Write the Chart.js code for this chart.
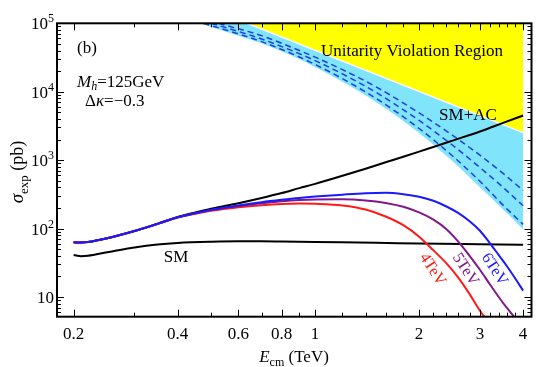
<!DOCTYPE html>
<html>
<head>
<meta charset="utf-8">
<script src="https://cdn.jsdelivr.net/npm/chart.js@4/dist/chart.umd.min.js"></script>
<style>
  html, body { margin: 0; padding: 0; background: #fff; }
  #wrap { width: 536px; height: 367px; }
</style>
</head>
<body>
<div id="wrap"><canvas id="chart" width="536" height="367"></canvas></div>
<script>
// --- data (E in TeV, sigma in pb) ---
const smE      = [0.2, 0.205, 0.21, 0.22, 0.25, 0.3, 0.35, 0.4, 0.5, 0.6, 0.7, 0.8, 1.0, 1.5, 2.0, 3.0, 4.0];
const smV      = [41, 40, 39.5, 40, 45, 53, 58.5, 61.5, 64, 65, 65, 64.5, 63.5, 62, 60.5, 59, 58];

const smacE    = [0.2, 0.21, 0.22, 0.25, 0.3, 0.35, 0.4, 0.45, 0.5, 0.6, 0.7, 0.8, 0.9, 1.0, 1.2, 1.4, 1.6, 1.8, 2.0, 2.2, 2.5, 2.8, 3.0, 3.5, 4.0];
const smacV    = [63, 62.5, 63.5, 72, 92, 118, 148, 172, 195, 235, 280, 330, 390, 450, 590, 750, 930, 1120, 1330, 1560, 1930, 2330, 2620, 3500, 4500];

const cut4E    = [0.2, 0.21, 0.22, 0.25, 0.3, 0.35, 0.4, 0.45, 0.5, 0.6, 0.7, 0.8, 0.9, 1.0, 1.2, 1.4, 1.6, 1.8, 2.0, 2.2, 2.4, 2.6, 2.8, 3.0, 3.15];
const cut4V    = [63, 62.5, 63.5, 72, 92, 117, 145, 165, 182, 205, 220, 229, 232, 230, 218, 190, 150, 112, 76, 48, 31, 19, 11, 6.3, 4.5];

const cut5E    = [0.2, 0.21, 0.22, 0.25, 0.3, 0.35, 0.4, 0.45, 0.5, 0.6, 0.7, 0.8, 0.9, 1.0, 1.2, 1.4, 1.6, 1.8, 2.0, 2.2, 2.4, 2.6, 2.8, 3.0, 3.2, 3.4, 3.6, 3.85];
const cut5V    = [63, 62.5, 63.5, 72, 92, 117, 146, 167, 186, 213, 235, 251, 262, 267, 268, 258, 237, 208, 172, 135, 98, 64, 40, 25, 15.5, 10, 6.8, 4.5];

const cut6E    = [0.2, 0.21, 0.22, 0.25, 0.3, 0.35, 0.4, 0.45, 0.5, 0.6, 0.7, 0.8, 0.9, 1.0, 1.2, 1.4, 1.6, 1.8, 2.0, 2.2, 2.4, 2.6, 2.8, 3.0, 3.2, 3.4, 3.6, 3.8, 4.0];
const cut6V    = [63, 62.5, 63.5, 72, 92, 117, 146, 168, 188, 218, 243, 263, 280, 293, 313, 328, 333, 318, 292, 255, 210, 168, 128, 93, 62, 41, 27.7, 18.5, 12.4];

// dashed curves inside the blue band
const dashE1   = [0.526, 0.6, 0.7, 0.85, 1.0, 1.2, 1.5, 2.0, 2.5, 3.0, 3.5, 4.0];
const dashV1   = [100000, 83000, 66000, 45000, 32000, 21000, 11800, 4900, 2300, 1180, 640, 360];
const dashE2   = [0.5, 0.6, 0.7, 0.85, 1.0, 1.2, 1.5, 2.0, 2.5, 3.0, 3.5, 4.0];
const dashV2   = [100000, 76000, 59000, 40500, 28500, 18200, 9800, 3800, 1650, 780, 400, 215];
const dashE3   = [0.475, 0.6, 0.7, 0.85, 1.0, 1.2, 1.5, 2.0, 2.5, 3.0, 3.5, 4.0];
const dashV3   = [100000, 70000, 54000, 36500, 25000, 15500, 8000, 2900, 1150, 490, 220, 115];

// lower edge of the light blue band
const bandE    = [0.462, 0.6, 0.7, 0.85, 1.0, 1.2, 1.5, 2.0, 2.5, 3.0, 3.5, 4.0];
const bandV    = [100000, 66000, 51000, 34000, 23000, 14000, 7100, 2500, 960, 400, 190, 98];

// unitarity bound
const unitE    = [0.635, 4.0];
const unitV    = [100000, 2520];

// axes
const xMin = 0.179, xMax = 4.23;
const yMin = 5.15, yMax = 100000;
const xMajor = [0.2, 0.4, 0.6, 0.8, 1, 2, 3, 4];
const xMajorLabels = ['0.2', '0.4', '0.6', '0.8', '1', '2', '3', '4'];
const xMinor = [0.3, 0.5, 0.7, 0.9, 1.2, 1.4, 1.6, 1.8, 2.2, 2.4, 2.6, 2.8, 3.2, 3.4, 3.6, 3.8];
const yMajor = [10, 100, 1000, 10000, 100000];
const yMajorExp = ['', '2', '3', '4', '5'];

const yMinor = [];
[1, 10, 100, 1000, 10000].forEach(d => {
    for (let k = 2; k <= 9; k++) {
        if (k * d > yMin && k * d < yMax) yMinor.push(k * d);
    }
});

const zip = (xs, ys) => xs.map((x, i) => ({ x: x, y: ys[i] }));

const SERIF = '"Liberation Serif", "Times New Roman", serif';

// draw a run of text pieces: [text, size, italic, dy]
function drawRuns(ctx, runs, x, y, align) {
    let total = 0;
    runs.forEach(r => {
        ctx.font = (r[2] ? 'italic ' : '') + r[1] + 'px ' + SERIF;
        r.w = ctx.measureText(r[0]).width;
        total += r.w;
    });
    let cx = x;
    if (align === 'center') cx = x - total / 2;
    if (align === 'right') cx = x - total;
    ctx.textAlign = 'left';
    runs.forEach(r => {
        ctx.font = (r[2] ? 'italic ' : '') + r[1] + 'px ' + SERIF;
        ctx.fillText(r[0], cx, y + (r[3] || 0));
        cx += r.w;
    });
}

const framePlugin = {
    id: 'frame',
    afterDraw(chart) {
        const ctx = chart.ctx;
        const a = chart.chartArea;
        const xs = chart.scales.x, ys = chart.scales.y;
        ctx.save();
        ctx.fillStyle = '#000';
        ctx.strokeStyle = '#000';

        // frame
        ctx.lineWidth = 2;
        ctx.strokeRect(a.left, a.top, a.right - a.left, a.bottom - a.top);

        // ticks, inward on all sides
        ctx.lineWidth = 1;
        ctx.beginPath();
        xMajor.forEach(v => {
            const p = Math.round(xs.getPixelForValue(v)) + 0.5;
            ctx.moveTo(p, a.bottom); ctx.lineTo(p, a.bottom - 7);
            ctx.moveTo(p, a.top); ctx.lineTo(p, a.top + 7);
        });
        xMinor.forEach(v => {
            const p = Math.round(xs.getPixelForValue(v)) + 0.5;
            ctx.moveTo(p, a.bottom); ctx.lineTo(p, a.bottom - 4);
            ctx.moveTo(p, a.top); ctx.lineTo(p, a.top + 4);
        });
        yMajor.forEach(v => {
            const p = Math.round(ys.getPixelForValue(v)) + 0.5;
            ctx.moveTo(a.left, p); ctx.lineTo(a.left + 7, p);
            ctx.moveTo(a.right, p); ctx.lineTo(a.right - 7, p);
        });
        yMinor.forEach(v => {
            const p = Math.round(ys.getPixelForValue(v)) + 0.5;
            ctx.moveTo(a.left, p); ctx.lineTo(a.left + 4, p);
            ctx.moveTo(a.right, p); ctx.lineTo(a.right - 4, p);
        });
        ctx.stroke();

        // tick labels
        ctx.textBaseline = 'alphabetic';
        xMajor.forEach((v, i) => {
            drawRuns(ctx, [[xMajorLabels[i], 17]], xs.getPixelForValue(v), a.bottom + 22, 'center');
        });
        yMajor.forEach((v, i) => {
            const p = ys.getPixelForValue(v);
            const runs = [['10', 17]];
            if (yMajorExp[i]) runs.push([yMajorExp[i], 12, false, -7]);
            drawRuns(ctx, runs, a.left - 3, p + 6, 'right');
        });

        // axis titles
        drawRuns(ctx, [['E', 17, true], ['cm', 12, false, 4], [' (TeV)', 17]], 294, 362, 'center');
        ctx.save();
        ctx.translate(23, 172);
        ctx.rotate(-Math.PI / 2);
        drawRuns(ctx, [['\u03C3', 19, true], ['exp', 13, false, 5], [' (pb)', 18]], 0, 0, 'center');
        ctx.restore();

        // annotations
        drawRuns(ctx, [['(b)', 17]], 77, 53, 'left');
        drawRuns(ctx, [['M', 17, true], ['h', 12, true, 3], ['=125GeV', 17]], 77, 87, 'left');
        drawRuns(ctx, [['\u0394', 17], ['\u03BA', 17, true], ['=\u22120.3', 17]], 85, 106, 'left');
        drawRuns(ctx, [['Unitarity Violation Region', 17]], 412, 56, 'center');
        drawRuns(ctx, [['SM+AC', 17]], 468, 120, 'center');
        drawRuns(ctx, [['SM', 17]], 176, 262, 'center');

        // rotated cut-off labels
        [['4TeV', '#ff1a1a', 433, 269], ['5TeV', '#80198a', 466, 269], ['6TeV', '#1a1aff', 495, 269]].forEach(l => {
            ctx.save();
            ctx.translate(l[2], l[3]);
            ctx.rotate(57 * Math.PI / 180);
            ctx.fillStyle = l[1];
            drawRuns(ctx, [[l[0], 16]], 0, 5, 'center');
            ctx.restore();
        });

        ctx.restore();
    }
};

const solid = (data, color, width) => ({
    data: data,
    borderColor: color,
    borderWidth: width,
    pointRadius: 0,
    fill: false,
    cubicInterpolationMode: 'monotone'
});

const dashed = data => ({
    data: data,
    borderColor: '#1f3fe0',
    borderWidth: 1.5,
    borderDash: [6, 4],
    pointRadius: 0,
    fill: false,
    cubicInterpolationMode: 'monotone'
});

new Chart(document.getElementById('chart'), {
    type: 'line',
    data: {
        datasets: [
            solid(zip(cut6E, cut6V), '#1a1aff', 2),
            solid(zip(cut5E, cut5V), '#80198a', 2),
            solid(zip(cut4E, cut4V), '#ff1a1a', 2),
            solid(zip(smacE, smacV), '#000000', 2),
            solid(zip(smE, smV), '#000000', 2),
            dashed(zip(dashE1, dashV1)),
            dashed(zip(dashE2, dashV2)),
            dashed(zip(dashE3, dashV3)),
            {
                data: zip(unitE, unitV),
                borderColor: '#ffffff',
                borderWidth: 1.5,
                backgroundColor: '#ffff00',
                pointRadius: 0,
                tension: 0,
                fill: 'end'
            },
            {
                data: zip(bandE, bandV),
                borderWidth: 0,
                borderColor: 'rgba(0,0,0,0)',
                backgroundColor: '#80e4fb',
                pointRadius: 0,
                cubicInterpolationMode: 'monotone',
                fill: 'end'
            }
        ]
    },
    options: {
        responsive: false,
        animation: false,
        layout: { padding: { left: 57, right: 4.5, top: 23.3, bottom: 50.3 } },
        plugins: { legend: { display: false }, tooltip: { enabled: false } },
        scales: {
            x: { type: 'logarithmic', min: xMin, max: xMax, display: false },
            y: { type: 'logarithmic', min: yMin, max: yMax, display: false }
        }
    },
    plugins: [framePlugin]
});
</script>
</body>
</html>
